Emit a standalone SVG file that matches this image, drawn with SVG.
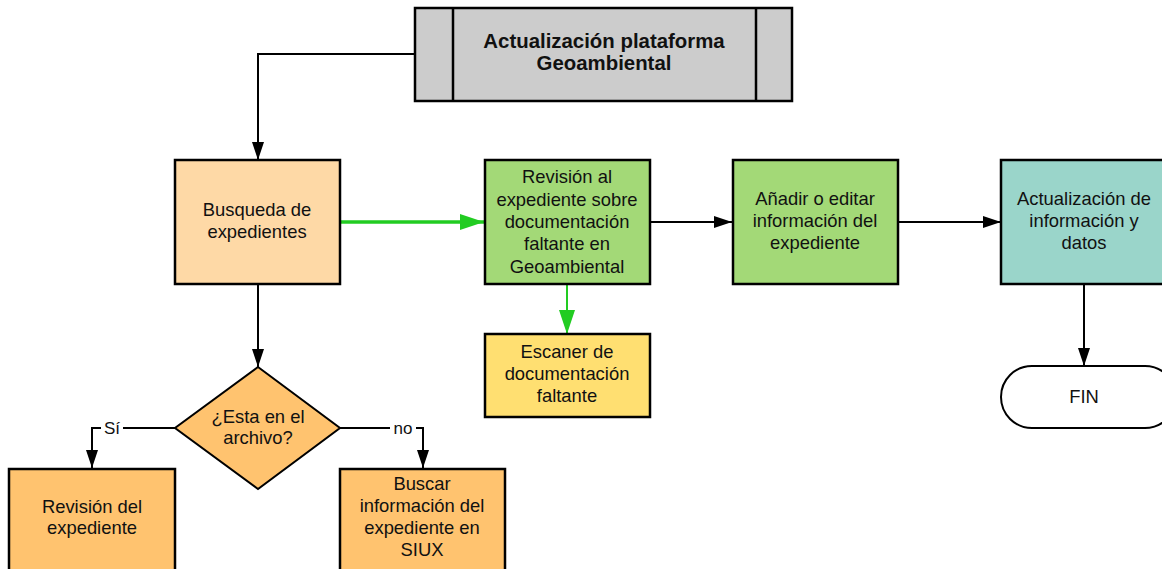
<svg xmlns="http://www.w3.org/2000/svg" width="1162" height="569" viewBox="0 0 1162 569">
<style>
.box{stroke:#000;stroke-width:2.5}
.t{font-family:"Liberation Sans",Arial,sans-serif;font-size:18.4px;fill:#111;text-anchor:middle}
.tb{font-family:"Liberation Sans",Arial,sans-serif;font-size:20.4px;font-weight:bold;fill:#111;text-anchor:middle}
.c{fill:none;stroke:#000;stroke-width:2}
.g{fill:none;stroke:#22cc22;stroke-width:3.5}
.lbl{font-family:"Liberation Sans",Arial,sans-serif;font-size:17px;fill:#111;text-anchor:middle}
</style>
<defs>
<marker id="ab" markerUnits="userSpaceOnUse" markerWidth="18" markerHeight="12" refX="18" refY="6" orient="auto">
<path d="M0,0 L18,6 L0,12 Z" fill="#000"/>
</marker>
<marker id="ag" markerUnits="userSpaceOnUse" markerWidth="24" markerHeight="16" refX="24" refY="8" orient="auto">
<path d="M0,0 L24,8 L0,16 Z" fill="#22cc22"/>
</marker>
</defs>
<rect width="1162" height="569" fill="#fff"/>
<g id="connectors">
<path class="c" d="M414,54 H258 V160" marker-end="url(#ab)"/>
<path class="g" d="M340,222 H484" marker-end="url(#ag)"/>
<path class="c" d="M650,222 H732" marker-end="url(#ab)"/>
<path class="c" d="M898,222 H1001" marker-end="url(#ab)"/>
<path class="c" d="M567,284 V334" style="stroke:#22cc22;stroke-width:2" marker-end="url(#ag)"/>
<path class="c" d="M1084,284 V366" marker-end="url(#ab)"/>
<path class="c" d="M258,284 V367" marker-end="url(#ab)"/>
<path class="c" d="M175,428 H92 V468" marker-end="url(#ab)"/>
<path class="c" d="M340,428 H423 V468" marker-end="url(#ab)"/>
<rect x="101" y="418" width="22" height="18" fill="#fff"/>
<text class="lbl" x="112" y="434">Sí</text>
<rect x="390" y="418" width="26" height="18" fill="#fff"/>
<text class="lbl" x="403" y="434">no</text>
</g>
<g id="n-top">
<rect class="box" x="415" y="8" width="377" height="93" fill="#cccccc"/>
<line class="box" x1="453" y1="8" x2="453" y2="101"/>
<line class="box" x1="756" y1="8" x2="756" y2="101"/>
<text class="tb" x="604" y="48">Actualización plataforma</text>
<text class="tb" x="604" y="70">Geoambiental</text>
</g>
<g id="n-busqueda">
<rect class="box" x="175" y="160" width="165" height="124" fill="#fed9a6"/>
<text class="t" x="257" y="216">Busqueda de</text>
<text class="t" x="257" y="238">expedientes</text>
</g>
<g id="n-revision">
<rect class="box" x="485" y="160" width="165" height="124" fill="#a3d977"/>
<text class="t" x="567" y="183">Revisión al</text>
<text class="t" x="567" y="206">expediente sobre</text>
<text class="t" x="567" y="228">documentación</text>
<text class="t" x="567" y="250">faltante en</text>
<text class="t" x="567" y="273">Geoambiental</text>
</g>
<g id="n-anadir">
<rect class="box" x="733" y="160" width="165" height="124" fill="#a3d977"/>
<text class="t" x="815" y="205">Añadir o editar</text>
<text class="t" x="815" y="227">información del</text>
<text class="t" x="815" y="249">expediente</text>
</g>
<g id="n-actualizacion">
<rect class="box" x="1001" y="160" width="170" height="124" fill="#9ad5ca"/>
<text class="t" x="1084" y="205">Actualización de</text>
<text class="t" x="1084" y="227">información y</text>
<text class="t" x="1084" y="249">datos</text>
</g>
<g id="n-fin">
<rect x="1001" y="366" width="175" height="62" rx="31" ry="31" fill="#fff" stroke="#000" stroke-width="2"/>
<text class="t" x="1084" y="403">FIN</text>
</g>
<g id="n-escaner">
<rect class="box" x="485" y="334" width="165" height="83" fill="#ffdf71"/>
<text class="t" x="567" y="358">Escaner de</text>
<text class="t" x="567" y="380">documentación</text>
<text class="t" x="567" y="402">faltante</text>
</g>
<g id="n-decision">
<polygon points="258,367 340,428 258,489 175,428" fill="#ffc36f" stroke="#000" stroke-width="2"/>
<text class="t" x="258" y="423">¿Esta en el</text>
<text class="t" x="258" y="444">archivo?</text>
</g>
<g id="n-revdel">
<rect class="box" x="9" y="469" width="166" height="110" fill="#ffc36f"/>
<text class="t" x="92" y="513">Revisión del</text>
<text class="t" x="92" y="534">expediente</text>
</g>
<g id="n-buscar">
<rect class="box" x="340" y="469" width="165" height="110" fill="#ffc36f"/>
<text class="t" x="422" y="490">Buscar</text>
<text class="t" x="422" y="512">información del</text>
<text class="t" x="422" y="534">expediente en</text>
<text class="t" x="422" y="556">SIUX</text>
</g>
</svg>
